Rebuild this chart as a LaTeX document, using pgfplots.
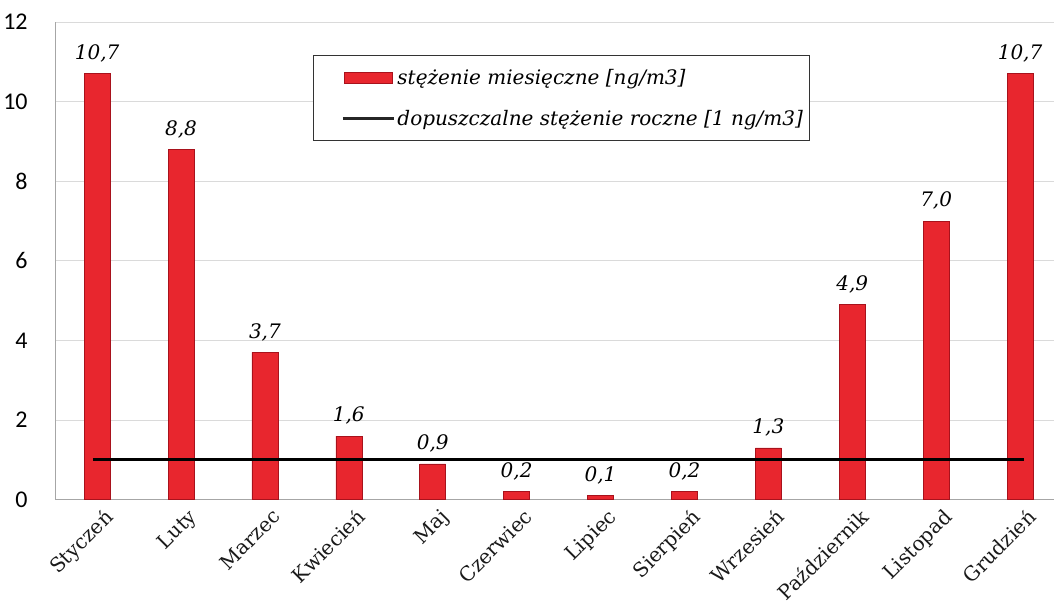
\documentclass[border=0pt]{standalone}
\usepackage{pgfplots}
\pgfplotsset{compat=1.18}
\usepackage{fontspec}
\setmainfont{DejaVu Serif}
\newfontfamily\calib{Carlito}
\definecolor{BarRed}{HTML}{E8262E}
\definecolor{BarEdge}{HTML}{A8121C}
\definecolor{GridGray}{HTML}{DADADA}
\definecolor{LabelGray}{HTML}{1A1A1A}
\begin{document}
\begin{tikzpicture}
  \begin{axis}[
    scale only axis,
    width=999pt, height=478pt,
    xmin=-0.5, xmax=11.4,
    ymin=0, ymax=12,
    ytick={0,2,...,12},
    xtick=data,
    xticklabels={Styczeń,Luty,Marzec,Kwiecień,Maj,Czerwiec,Lipiec,Sierpień,Wrzesień,Październik,Listopad,Grudzień},
    x tick label style={rotate=45, anchor=north east, font=\fontsize{20}{22}\selectfont, text=LabelGray, inner sep=1pt, yshift=-9pt, xshift=0pt},
    y tick label style={font=\fontsize{24}{26}\calib, xshift=-24pt},
    /pgf/number format/assume math mode=true,
    major tick length=0pt,
    axis x line*=bottom, axis y line*=left,
    axis line style={draw=gray!70, line width=0.8pt},
    ymajorgrids, grid style={draw=GridGray, line width=0.8pt},
    ybar, bar width=26pt,
    legend style={at={(rel axis cs:0.258,0.931)}, anchor=north west,
      draw=black!80, line width=0.7pt, inner xsep=4pt, inner ysep=12pt,
      font=\fontsize{20}{23}\selectfont\itshape, row sep=20pt},
    legend cell align=left,
  ]
    \addplot[fill=BarRed, draw=BarEdge, line width=0.6pt,
      nodes near coords,
      nodes near coords style={font=\fontsize{20}{22}\selectfont\itshape, yshift=8pt,
        /pgf/number format/.cd, fixed, fixed zerofill, precision=1, use comma},
      legend image code/.code={\path (-1.1cm,0);
        \draw[fill=BarRed, draw=BarEdge] (-0.2cm,-0.2cm) rectangle (1.5cm,0.2cm);}]
      coordinates {(0,10.7) (1,8.8) (2,3.7) (3,1.6) (4,0.9) (5,0.2) (6,0.1) (7,0.2) (8,1.3) (9,4.9) (10,7.0) (11,10.7)};
    \addlegendentry{stężenie miesięczne [ng/m3]}
    \addplot[sharp plot, black, line width=3pt,
      legend image code/.code={\path (-1.1cm,0);
        \draw[black!85, line width=3pt] (-0.25cm,0) -- (1.55cm,0);}]
      coordinates {(-0.05,1) (11.05,1)};
    \addlegendentry{dopuszczalne stężenie roczne [1 ng/m3]}
  \end{axis}
  \path (current axis.north west) ++(0,22pt);
\end{tikzpicture}
\end{document}
